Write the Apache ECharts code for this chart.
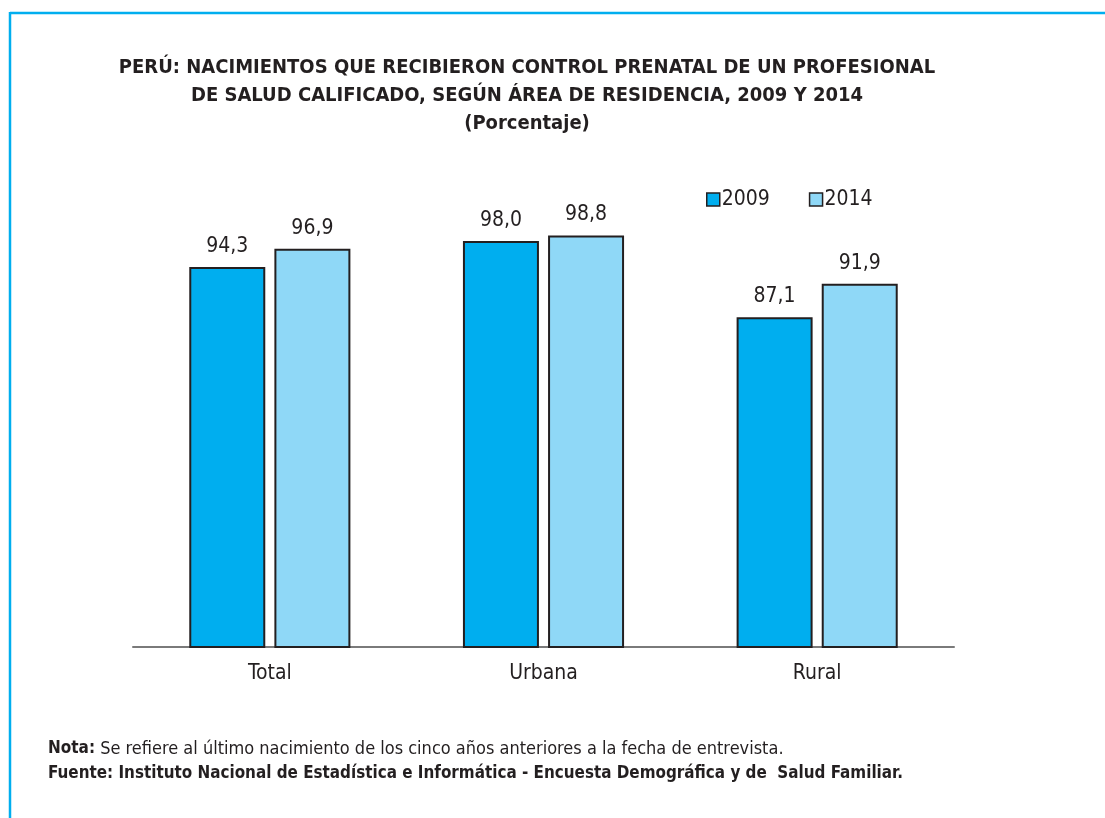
<!DOCTYPE html>
<html><head><meta charset="utf-8">
<script src="https://cdn.jsdelivr.net/npm/echarts@6/dist/echarts.min.js"></script>
<style>html,body{margin:0;padding:0;background:#fff}#c{width:1105px;height:818px}</style>
</head><body><div id="c"></div>
<script>
const categories = ['Total', 'Urbana', 'Rural'];
const seriesNames = ['2009', '2014'];
const values2009 = [94.3, 98.0, 87.1];
const values2014 = [96.9, 98.8, 91.9];
const titleLines = ['PERÚ: NACIMIENTOS QUE RECIBIERON CONTROL PRENATAL DE UN PROFESIONAL', 'DE SALUD CALIFICADO, SEGÚN ÁREA DE RESIDENCIA, 2009 Y 2014', '(Porcentaje)'];
const notaLabel = 'Nota:';
const notaText = ' Se refiere al último nacimiento de los cinco años anteriores a la fecha de entrevista.';
const fuenteText = 'Fuente: Instituto Nacional de Estadística e Informática - Encuesta Demográfica y de  Salud Familiar.';

const FONT = '"Liberation Sans Narrow", "Arial Narrow", "DejaVu Sans Condensed", sans-serif';
const TXT = '#231f20';
const colors = ['#00aeef', '#8fd8f7'];

const chart = echarts.init(document.getElementById('c'), null, {renderer: 'canvas'});
const fmt = p => p.value.toFixed(1).replace('.', ',');
function barSeries(name, data, color) {
  return {
    name, type: 'bar', data, barWidth: 76, barGap: '12%',
    itemStyle: {color, borderColor: '#231f20', borderWidth: 2},
    label: {show: true, position: 'top', distance: 10, formatter: fmt, color: TXT, fontFamily: FONT, fontSize: 21}
  };
}
chart.setOption({
  animation: false,
  backgroundColor: '#fff',
  title: {
    text: titleLines.join('\n'),
    left: 522, top: 49, textAlign: 'center',
    textStyle: {fontFamily: FONT, fontWeight: 'bold', fontSize: 20, lineHeight: 28, color: TXT}
  },
  legend: {
    data: seriesNames, left: 701, top: 184, itemWidth: 13, itemHeight: 13, itemGap: 39,
    icon: 'rect',
    itemStyle: {borderColor: '#231f20', borderWidth: 1.5},
    textStyle: {fontFamily: FONT, fontSize: 21, color: TXT, padding: [0, 0, 0, -3]}
  },
  grid: {left: 133, right: 151, top: 227, bottom: 171, containLabel: false},
  xAxis: {
    type: 'category', data: categories,
    axisLine: {lineStyle: {color: '#7a7a7a', width: 2}},
    axisTick: {show: false},
    axisLabel: {fontFamily: FONT, fontSize: 21, color: TXT, margin: 16}
  },
  yAxis: {type: 'value', min: 40, max: 100, show: false, splitLine: {show: false}},
  series: [barSeries(seriesNames[0], values2009, colors[0]), barSeries(seriesNames[1], values2014, colors[1])],
  graphic: [
    {type: 'line', shape: {x1: 10, y1: 13, x2: 1105, y2: 13}, style: {stroke: '#00aeef', lineWidth: 2.5}},
    {type: 'line', shape: {x1: 10, y1: 12, x2: 10, y2: 818}, style: {stroke: '#00aeef', lineWidth: 2.5}},
    {type: 'text', left: 48, top: 740, style: {
      text: '{b|' + notaLabel + '}' + notaText,
      font: '18px ' + FONT, fill: TXT,
      rich: {b: {fontFamily: FONT, fontWeight: 'bold', fontSize: 17, fill: TXT}}
    }},
    {type: 'text', left: 48, top: 765, style: {text: fuenteText, font: 'bold 16.9px ' + FONT, fill: TXT}}
  ]
});
</script></body></html>
